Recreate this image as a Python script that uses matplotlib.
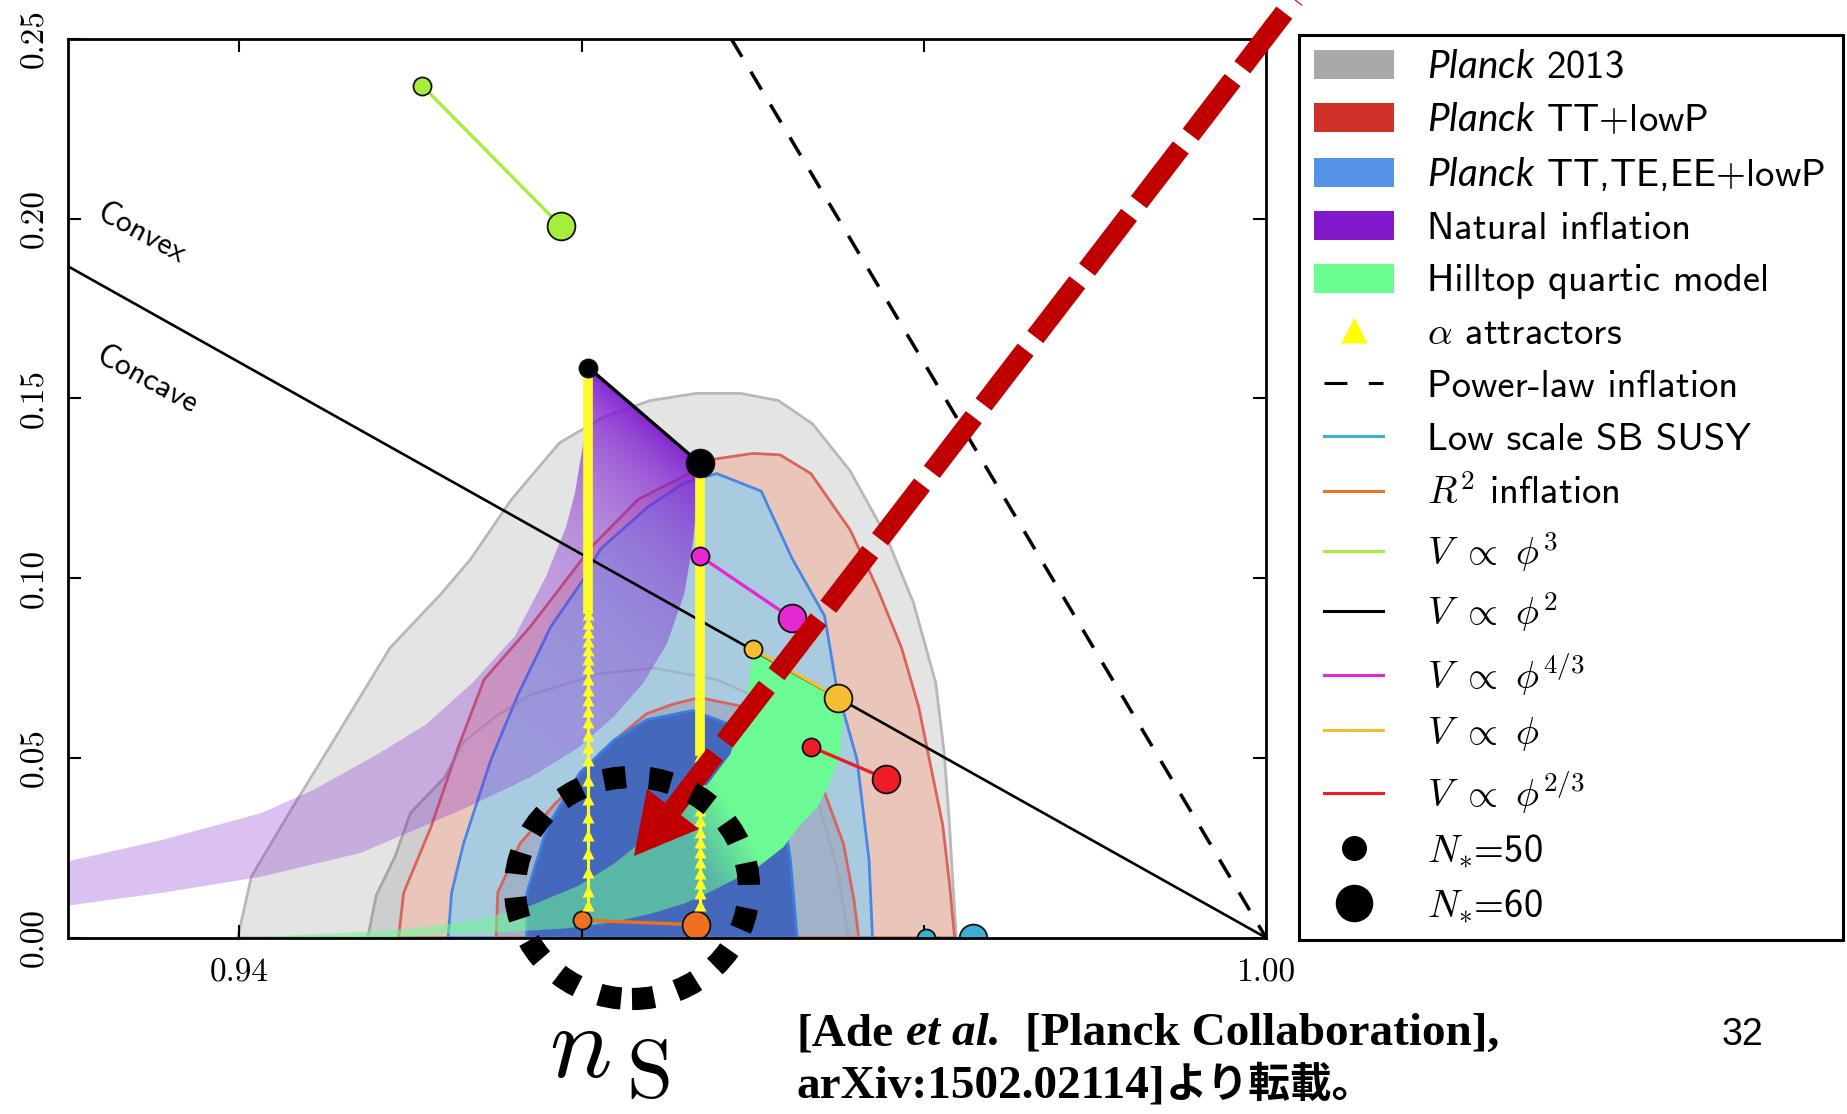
import numpy as np
import matplotlib
matplotlib.use("Agg")
import matplotlib.pyplot as plt
from matplotlib.patches import Polygon, Ellipse, Patch
from matplotlib.lines import Line2D
from matplotlib.legend_handler import HandlerLine2D
from matplotlib.font_manager import FontProperties

W, H, DPI = 1847, 1114, 100

plt.rcParams["mathtext.fontset"] = "cm"
plt.rcParams["mathtext.rm"] = "cmss10"
plt.rcParams["mathtext.it"] = "Lato:italic"

# ---------------- observational contours (n_s, r) ----------------
p13_95_ns = [0.9399, 0.9407, 0.9430, 0.9460, 0.9488, 0.9518, 0.9535, 0.9559, 0.9587, 0.9613, 0.9640,
             0.9667, 0.9693, 0.9715, 0.9735, 0.9757, 0.9778, 0.9794, 0.9807, 0.9812, 0.9815, 0.9817,
             0.9819]
p13_95_r = [0.0, 0.0170, 0.0354, 0.0587, 0.0806, 0.0957, 0.1052, 0.1219, 0.1376, 0.1449, 0.1494,
            0.1514, 0.1514, 0.1494, 0.1429, 0.1298, 0.1117, 0.0931, 0.0708, 0.0511, 0.0315, 0.0151,
            0.0]
p13_68_ns = [0.9475, 0.9480, 0.9491, 0.9500, 0.9520, 0.9531, 0.9550, 0.9570, 0.9610, 0.9642, 0.9679,
             0.9705, 0.9722, 0.9734, 0.9742, 0.9749, 0.9753, 0.9756]
p13_68_r = [0.0, 0.0118, 0.0226, 0.0347, 0.0446, 0.0544, 0.0616, 0.0675, 0.0734, 0.0750, 0.0718,
            0.0662, 0.0577, 0.0446, 0.0315, 0.0200, 0.0085, 0.0]
tt_95_ns = [0.9493, 0.9496, 0.9512, 0.9528, 0.9543, 0.9570, 0.9606, 0.9633, 0.9667, 0.9676, 0.9700,
            0.9716, 0.9734, 0.9757, 0.9773, 0.9787, 0.9797, 0.9804, 0.9811, 0.9815, 0.9818]
tt_95_r = [0.0, 0.0125, 0.0308, 0.0531, 0.0718, 0.0865, 0.1088, 0.1219, 0.1301, 0.1330, 0.1347,
           0.1343, 0.1291, 0.1134, 0.0970, 0.0806, 0.0642, 0.0478, 0.0315, 0.0151, 0.0]
tt_68_ns = [0.9550, 0.9551, 0.9564, 0.9584, 0.9603, 0.9622, 0.9638, 0.9653, 0.9669, 0.9695, 0.9722,
            0.9742, 0.9753, 0.9759, 0.9762]
tt_68_r = [0.0, 0.0125, 0.0262, 0.0370, 0.0459, 0.0560, 0.0623, 0.0649, 0.0668, 0.0642, 0.0531,
           0.0403, 0.0262, 0.0111, 0.0]
pol_95_ns = [0.9522, 0.9524, 0.9531, 0.9547, 0.9563, 0.9582, 0.9601, 0.9611, 0.9639, 0.9660, 0.9679,
             0.9705, 0.9723, 0.9742, 0.9749, 0.9761, 0.9768, 0.9770]
pol_95_r = [0.0, 0.0125, 0.0262, 0.0495, 0.0678, 0.0865, 0.0996, 0.1081, 0.1199, 0.1265, 0.1291,
            0.1242, 0.1055, 0.0895, 0.0698, 0.0495, 0.0216, 0.0]
pol_68_ns = [0.9568, 0.9568, 0.9580, 0.9599, 0.9619, 0.9638, 0.9665, 0.9685, 0.9701, 0.9711, 0.9718,
             0.9722, 0.9726]
pol_68_r = [0.0, 0.0125, 0.0308, 0.0459, 0.0550, 0.0606, 0.0632, 0.0596, 0.0528, 0.0446, 0.0347,
            0.0216, 0.0]

# ---------------- model predictions ----------------
# natural inflation band between the N=50 and N=60 curves
ni_n50_ns = [0.9604, 0.9603, 0.9601, 0.9596, 0.9591, 0.9579, 0.9561, 0.9536, 0.9509, 0.9481, 0.9444,
             0.9413, 0.9355, 0.9290]
ni_n50_r = [0.1586, 0.1494, 0.1376, 0.1235, 0.1144, 0.1003, 0.0839, 0.0708, 0.0593, 0.0511, 0.0413,
            0.0347, 0.0272, 0.0202]
ni_n60_ns = [0.9669, 0.9667, 0.9665, 0.9660, 0.9650, 0.9636, 0.9619, 0.9598, 0.9570, 0.9529, 0.9471,
             0.9413, 0.9355, 0.9290]
ni_n60_r = [0.1320, 0.1189, 0.1098, 0.0957, 0.0819, 0.0708, 0.0616, 0.0528, 0.0446, 0.0354, 0.0236,
            0.0170, 0.0125, 0.0083]

# hilltop quartic band
hq_n60_ns = [0.9750, 0.9753, 0.9751, 0.9745, 0.9738, 0.9728, 0.9718, 0.9704, 0.9689, 0.9674, 0.9660,
             0.9640, 0.9618, 0.9591, 0.9557, 0.9522, 0.9501]
hq_n60_r = [0.0668, 0.0609, 0.0511, 0.0429, 0.0364, 0.0315, 0.0252, 0.0200, 0.0161, 0.0125, 0.0095,
            0.0066, 0.0043, 0.0026, 0.0016, 0.0010, 0.0003]
hq_n50_ns = [0.9400, 0.9433, 0.9488, 0.9536, 0.9568, 0.9598, 0.9619, 0.9639, 0.9656, 0.9674, 0.9687,
             0.9697, 0.9700]
hq_n50_r = [0.0, 0.0007, 0.0020, 0.0046, 0.0085, 0.0144, 0.0206, 0.0282, 0.0347, 0.0429, 0.0511,
            0.0675, 0.0803]

# monomial potentials: (N=50, N=60)
phi3_ns, phi3_r = [0.9507, 0.9588], [0.2369, 0.1979]
phi2_ns, phi2_r = [0.9604, 0.9669], [0.1586, 0.1320]
phi43_ns, phi43_r = [0.9669, 0.9723], [0.1062, 0.0888]
phi1_ns, phi1_r = [0.9700, 0.9750], [0.0803, 0.0668]
phi23_ns, phi23_r = [0.9734, 0.9778], [0.0531, 0.0442]
r2_ns, r2_r = [0.9600, 0.9667], [0.0049, 0.0036]
susy_ns, susy_r = [0.9801, 0.9829], [0.0, 0.0]

# alpha attractors (N=50 and N=60 columns)
alpha_ns = [0.9604, 0.9669]
alpha_tri_r_n50 = [0.0092, 0.0131, 0.0183, 0.0236, 0.0285, 0.0337, 0.0387, 0.0439, 0.0495, 0.0530,
                   0.0565, 0.0600, 0.0630, 0.0660, 0.0690, 0.0720, 0.0750, 0.0775, 0.0800, 0.0825,
                   0.0850, 0.0875, 0.0900]
alpha_tri_r_n60 = [0.0092, 0.0124, 0.0152, 0.0180, 0.0211, 0.0239, 0.0267, 0.0295, 0.0328, 0.0355,
                   0.0380, 0.0405, 0.0430, 0.0455, 0.0480, 0.0505]

# straight reference lines
powerlaw_ns, powerlaw_r = [0.96875, 1.0], [0.25, 0.0]
boundary_ns, boundary_r = [0.93, 1.0], [0.1867, 0.0]

x_ticks = [0.94, 0.96, 0.98, 1.00]
x_tick_labels = ["0.94", "", "", "1.00"]
y_ticks = [0.0, 0.05, 0.10, 0.15, 0.20, 0.25]
y_tick_labels = ["0.00", "0.05", "0.10", "0.15", "0.20", "0.25"]

C_LIME, C_MAG, C_AMBER, C_RED = "#a6ee3c", "#e628d2", "#f6bd32", "#ee1c24"
C_ORANGE, C_CYAN, C_YELLOW = "#ee7022", "#3bafd2", "#fcfc2c"

# ---------------- figure ----------------
fig = plt.figure(figsize=(W / DPI, H / DPI), dpi=DPI, facecolor="white")
ax = fig.add_axes([0.03698, 0.15826, 0.64846, 0.80682])
XLIM, YLIM = (0.93, 1.00), (0.0, 0.25)
ax.set_xlim(*XLIM)
ax.set_ylim(*YLIM)

ax.fill(p13_95_ns, p13_95_r, facecolor="#e4e4e4", edgecolor="#b8b8b8", lw=2.0, zorder=1.0)
ax.fill(p13_68_ns, p13_68_r, facecolor="#cecece", edgecolor="#b0b0b0", lw=2.0, zorder=1.1)
ax.fill(tt_95_ns, tt_95_r, facecolor="#eac6ba", edgecolor="#d9645b", lw=2.0, zorder=1.2)
ax.fill(pol_95_ns, pol_95_r, facecolor="#a8cbe0", edgecolor="#4a86e3", lw=2.0, zorder=1.3)
ax.fill(tt_68_ns, tt_68_r, facecolor="#a1b2c8", edgecolor="#d9645b", lw=2.0, zorder=1.4)
ax.fill(pol_68_ns, pol_68_r, facecolor="#4468bb", edgecolor="#3d7ee0", lw=2.0, zorder=1.5)
ax.plot(p13_68_ns, p13_68_r, color="#9a9a9a", lw=1.8, alpha=0.45, zorder=1.6)


def shade_region(ns_pts, r_pts, rgb, alpha_of, zorder):
    verts = np.column_stack([ns_pts, r_pts])
    clip = Polygon(verts, closed=True, transform=ax.transData)
    x0, x1 = verts[:, 0].min(), verts[:, 0].max()
    y0, y1 = verts[:, 1].min(), verts[:, 1].max()
    gx, gy = np.meshgrid(np.linspace(x0, x1, 500), np.linspace(y0, y1, 500))
    d = ax.transData.transform(np.column_stack([gx.ravel(), gy.ravel()]))
    a = alpha_of(d[:, 0].reshape(gx.shape), d[:, 1].reshape(gx.shape))
    img = np.empty(gx.shape + (4,))
    img[..., :3] = rgb
    img[..., 3] = a
    im = ax.imshow(img, extent=(x0, x1, y0, y1), origin="lower", aspect="auto",
                   interpolation="bilinear", zorder=zorder)
    im.set_clip_path(clip)


# natural inflation: deepest colour next to the quadratic end-point segment
pa = ax.transData.transform((phi2_ns[0], phi2_r[0]))
pb = ax.transData.transform((phi2_ns[1], phi2_r[1]))
tang = (pb - pa) / np.hypot(*(pb - pa))
nrm = np.array([tang[1], -tang[0]])


def natural_alpha(X, Y):
    dist = np.clip((X - pa[0]) * nrm[0] + (Y - pa[1]) * nrm[1], 0, None)
    return 0.28 + 0.67 * np.exp(-dist / 90.0)


shade_region(ni_n50_ns + ni_n60_ns[::-1], ni_n50_r + ni_n60_r[::-1],
             (0.50, 0.12, 0.82), natural_alpha, 2.0)

# hilltop: opaque toward large n_s, fading toward small r
ga = ax.transData.transform((0.96667, 0.0249))


def hilltop_alpha(X, Y):
    u = ((X - ga[0]) + 0.6 * (Y - ga[1])) / 59.0
    return 0.55 + 0.45 * np.clip(u, 0, 1)


shade_region(hq_n60_ns + hq_n50_ns, hq_n60_r + hq_n50_r,
             (0.424, 0.984, 0.584), hilltop_alpha, 2.1)

# reference lines
ax.plot(boundary_ns, boundary_r, color="black", lw=1.9, zorder=3)
ax.plot(powerlaw_ns, powerlaw_r, color="black", lw=2.5, ls=(0, (6, 5)), zorder=3)

# alpha attractors
for ns0, tri, top in [(alpha_ns[0], alpha_tri_r_n50, phi2_r[0]),
                      (alpha_ns[1], alpha_tri_r_n60, phi2_r[1])]:
    ax.plot([ns0, ns0], [min(tri), top], color=C_YELLOW, lw=2.2, zorder=4)
    ax.plot([ns0, ns0], [max(tri), top], color=C_YELLOW, lw=7, solid_capstyle="butt", zorder=4)
    ax.plot(np.full(len(tri), ns0), tri, ls="none", marker="^", ms=8,
            color=C_YELLOW, mec="none", zorder=4.1)

# monomial and other single-field models (the r ~ 0 ones sit under the axis ticks)
models = [(phi3_ns, phi3_r, C_LIME, 5), (phi2_ns, phi2_r, "black", 5),
          (phi43_ns, phi43_r, C_MAG, 5), (phi1_ns, phi1_r, C_AMBER, 5),
          (phi23_ns, phi23_r, C_RED, 5), (r2_ns, r2_r, C_ORANGE, 2.3),
          (susy_ns, susy_r, C_CYAN, 2.3)]
for ns_v, r_v, col, z in models:
    ax.plot(ns_v, r_v, color=col, lw=2.4, zorder=z)
    ax.plot(ns_v[0], r_v[0], ls="none", marker="o", ms=13, mfc=col, mec="#111111", mew=1.3,
            zorder=z + 0.1)
    ax.plot(ns_v[1], r_v[1], ls="none", marker="o", ms=20, mfc=col, mec="#111111", mew=1.3,
            zorder=z + 0.1)

ax.text(0.93426, 0.1956, "Convex", rotation=-28.5, rotation_mode="anchor", ha="center",
        va="center", family="cmss10", fontsize=23, zorder=7)
ax.text(0.93460, 0.1550, "Concave", rotation=-28.5, rotation_mode="anchor", ha="center",
        va="center", family="cmss10", fontsize=23, zorder=7)

ax.set_xlim(*XLIM)
ax.set_ylim(*YLIM)
ax.set_xticks(x_ticks)
ax.set_xticklabels(x_tick_labels, fontfamily="cmr10", fontsize=24)
ax.set_yticks(y_ticks)
ax.set_yticklabels(y_tick_labels, fontfamily="cmr10", fontsize=24, rotation=90, va="center")
ax.tick_params(direction="in", length=9.5, width=1.5, top=True, right=True)
ax.tick_params(axis="x", pad=15)
ax.tick_params(axis="y", pad=14)
for sp in ax.spines.values():
    sp.set_linewidth(2.0)


# ---------------- legend ----------------
class ShortLineHandler(HandlerLine2D):
    def __init__(self, frac=0.73, **kw):
        super().__init__(**kw)
        self.frac = frac

    def create_artists(self, legend, orig_handle, xdescent, ydescent, width, height,
                       fontsize, trans):
        pad = 0.5 * (1 - self.frac) * width
        return super().create_artists(legend, orig_handle, xdescent - pad, ydescent,
                                      width - 2 * pad, height, fontsize, trans)


legend_labels = [r"$Planck$ 2013", r"$Planck$ TT+lowP", r"$Planck$ TT,TE,EE+lowP",
                 "Natural inflation", "Hilltop quartic model", r"$\alpha$ attractors",
                 "Power-law inflation", "Low scale SB SUSY", r"$R^2$ inflation",
                 r"$V\ \propto\ \phi^3$", r"$V\ \propto\ \phi^2$", r"$V\ \propto\ \phi^{4/3}$",
                 r"$V\ \propto\ \phi$", r"$V\ \propto\ \phi^{2/3}$", r"$N_{\ast}$=50",
                 r"$N_{\ast}$=60"]
line_handles = [Line2D([], [], color="black", lw=2.2, ls=(0, (7.5, 7))),
                Line2D([], [], color=C_CYAN, lw=2.2),
                Line2D([], [], color=C_ORANGE, lw=2.2),
                Line2D([], [], color=C_LIME, lw=2.2),
                Line2D([], [], color="black", lw=2.2),
                Line2D([], [], color=C_MAG, lw=2.2),
                Line2D([], [], color=C_AMBER, lw=2.2),
                Line2D([], [], color=C_RED, lw=2.2)]
legend_handles = ([Patch(facecolor="#a9a9a9"), Patch(facecolor="#cf3129"),
                   Patch(facecolor="#5592e8"), Patch(facecolor="#8419cc"),
                   Patch(facecolor="#6cfd92"),
                   Line2D([], [], ls="none", marker="^", ms=19, color="#ffff00", mec="none")]
                  + line_handles
                  + [Line2D([], [], ls="none", marker="o", ms=17, color="black"),
                     Line2D([], [], ls="none", marker="o", ms=26, color="black")])
hmap = {h: ShortLineHandler() for h in line_handles}

LEG_FS = 27.8
leg = fig.legend(legend_handles, legend_labels, loc="upper left",
                 bbox_to_anchor=(1299 / W, 178 / H, 544 / W, 901 / H), mode="expand",
                 borderaxespad=0.0, prop=FontProperties(family="cmss10", size=LEG_FS,
                                                        math_fontfamily="cm"),
                 frameon=True, fancybox=False, framealpha=1.0, edgecolor="black",
                 borderpad=0.38, labelspacing=0.44, handlelength=2.07, handleheight=0.78,
                 handletextpad=0.855, handler_map=hmap)
leg.get_frame().set_linewidth(2.2)
for txt in leg.get_texts()[:3]:
    txt.set_fontproperties(FontProperties(family="cmss10", size=LEG_FS, math_fontfamily="custom"))


# ---------------- overlays in figure space ----------------
def fx(x):
    return x / W


def fy(y):
    return 1 - y / H


# dashed red pointer
tip = np.array([634.0, 856.0])
base1, base2 = np.array([647.0, 789.0]), np.array([699.0, 829.0])
mid = 0.5 * (base1 + base2)
direc = np.array([1294.0, 0.0]) - mid
direc /= np.hypot(*direc)
far = mid + 1120 * direc
fig.add_artist(Line2D([fx(mid[0]), fx(far[0])], [fy(mid[1]), fy(far[1])],
                      transform=fig.transFigure, color="#c00000", lw=14.4,
                      ls=(0, (69 / 20, 16 / 20)), dash_capstyle="butt", zorder=20))
fig.add_artist(Polygon([[fx(tip[0]), fy(tip[1])], [fx(base1[0]), fy(base1[1])],
                        [fx(base2[0]), fy(base2[1])]], closed=True, transform=fig.transFigure,
                       facecolor="#c00000", edgecolor="none", zorder=20))

# dotted circle around the n_s axis region
fig.add_artist(Ellipse((fx(632), fy(888)), 2 * 117 / W, 2 * 111 / H, transform=fig.transFigure,
                       fill=False, edgecolor="black", lw=16, ls=(0, (1, 1.05)),
                       capstyle="butt", zorder=21))

# n_S label
fig.text(fx(549), fy(1077), r"$n$", fontsize=75, ha="left", va="baseline")
fig.text(fx(626), fy(1097), r"$\mathrm{S}$", fontsize=60, ha="left", va="baseline")

# citation
renderer = fig.canvas.get_renderer()


def text_run(x_px, y_px, pieces):
    x = x_px
    for s, kw, gap in pieces:
        t = fig.text(x / W, fy(y_px), s, ha="left", va="baseline", **kw)
        bb = t.get_window_extent(renderer=renderer)
        x = bb.x1 + gap


serif_b = dict(family="Liberation Serif", weight="bold", fontsize=34)
serif_bi = dict(family="Liberation Serif", weight="bold", style="italic", fontsize=34)
text_run(797, 1045, [("[Ade", serif_b, 12), ("et al.", serif_bi, 24),
                     ("[Planck Collaboration],", serif_b, 0)])
text_run(797, 1097, [("arXiv:1502.02114]", serif_b, 0),
                     ("より転載。", dict(family="Noto Sans CJK JP", weight="bold", fontsize=30), 0)])
fig.text(fx(1722), fy(1045), "32", family="Liberation Sans", fontsize=27, ha="left", va="baseline")

fig.savefig("out.png", dpi=DPI, facecolor="white")
